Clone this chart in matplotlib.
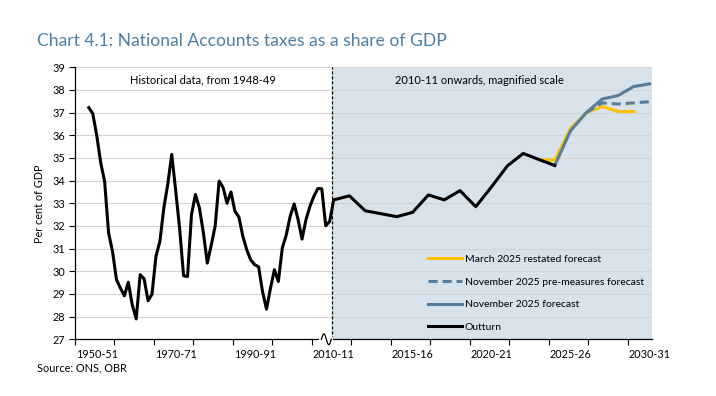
import matplotlib.pyplot as plt
import numpy as np

plt.rcParams['font.family'] = ['Lato', 'DejaVu Sans']

# outturn, historical part (one value per fiscal year, 1948-49 to 2009-10)
hist_years = list(range(1948, 2010))
hist_values = [37.22, 36.96, 36.0, 34.8, 33.97, 31.7, 30.88, 29.63, 29.26, 28.92,
               29.52, 28.52, 27.9, 29.85, 29.67, 28.7, 28.99, 30.66, 31.32, 32.8,
               33.85, 35.16, 33.56, 31.88, 29.8, 29.77, 32.5, 33.39, 32.8, 31.72,
               30.36, 31.15, 32.0, 33.98, 33.7, 33.0, 33.5, 32.65, 32.4, 31.55,
               30.95, 30.5, 30.29, 30.2, 29.1, 28.33, 29.25, 30.07, 29.55, 31.03,
               31.6, 32.43, 32.97, 32.28, 31.42, 32.28, 32.87, 33.31, 33.65, 33.64,
               32.01, 32.2]

# outturn, magnified part
recent_years = list(range(2010, 2025))
recent_values = [33.15, 33.33, 32.67, 32.54, 32.41, 32.6, 33.37, 33.15, 33.56,
                 32.85, 33.73, 34.65, 35.2, 34.93, 34.67]

march_years = list(range(2023, 2030))
march_values = [34.93, 34.9, 36.3, 37.0, 37.27, 37.05, 37.05]

nov_years = list(range(2024, 2031))
nov_values = [34.67, 36.2, 37.0, 37.6, 37.75, 38.15, 38.27]

pre_years = list(range(2026, 2031))
pre_values = [37.0, 37.43, 37.38, 37.43, 37.48]

label_years = [1950, 1970, 1990, 2010, 2015, 2020, 2025, 2030]

split_year = 2010
mag = 4  # magnification from 2010-11


def xpos(years):
    years = np.asarray(years)
    return np.where(years < split_year, years - 1948,
                    (split_year - 1948) + mag * (years - split_year))


def fy(y):
    return f"{y}-{str(y + 1)[-2:]}"


yellow = '#ffc000'
blue = '#587d9b'

fig = plt.figure(figsize=(7.16, 3.96), dpi=100)
ax = fig.add_axes([75 / 716, 1 - 339.3 / 396, 576.5 / 716, 272 / 396])

x_left = -3.5
x_right = float(xpos(2030)) + 0.5
x_split = float(xpos(split_year)) - 0.5

ax.axvspan(x_split, x_right, color='#d7e2ea', zorder=0.1, lw=0)
ax.axvline(x_split, color='black', lw=0.9, ls=(0, (2.5, 1.5)), zorder=3)

ax.plot(xpos(march_years), march_values, color=yellow, lw=2.2,
        label='March 2025 restated forecast', zorder=4)
ax.plot(xpos(pre_years), pre_values, color=blue, lw=2.2, ls=(0, (3, 1.6)),
        label='November 2025 pre-measures forecast', zorder=5)
ax.plot(xpos(nov_years), nov_values, color=blue, lw=2.2,
        label='November 2025 forecast', zorder=5)
ax.plot(xpos(hist_years + recent_years), hist_values + recent_values,
        color='black', lw=2.2, label='Outturn', zorder=6,
        solid_joinstyle='round')

ax.set_xlim(x_left, x_right)
ax.set_ylim(27, 39)
ax.set_yticks(range(27, 40))
ax.yaxis.grid(True, color='#d4d4d4', lw=0.8)
ax.set_axisbelow(True)

ax.set_xticks(np.arange(x_left, x_right, 10))
ax.set_xticklabels([])
ax.set_xticks(xpos(label_years), minor=True)
ax.set_xticklabels([fy(y) for y in label_years], minor=True)
ax.tick_params(axis='x', which='major', direction='out', length=4, width=0.8)
ax.tick_params(axis='x', which='minor', length=0, pad=7, labelsize=7.8)
ax.tick_params(axis='y', direction='out', length=4, width=0.8, labelsize=7.8, pad=3)

for s in ['top', 'right']:
    ax.spines[s].set_visible(False)
ax.spines['left'].set_linewidth(0.9)
ax.spines['bottom'].set_linewidth(0.9)

ax.set_ylabel('Per cent of GDP', fontsize=7.8)
ax.yaxis.set_label_coords(-0.052, 0.5)

# axis break on the x axis
b0 = x_split - 2.6
b1 = x_split - 0.1
ax.plot([b0, b1], [0, 0], color='white', lw=3, transform=ax.get_xaxis_transform(),
        clip_on=False, zorder=7)
t = np.linspace(0, 1, 30)
ax.plot(b0 + (b1 - b0) * t, 0.02 * np.sin(2 * np.pi * t), color='black', lw=0.9,
        transform=ax.get_xaxis_transform(), clip_on=False, zorder=8)

ax.text(float(xpos(1977)), 38.45, 'Historical data, from 1948-49', ha='center',
        va='center', fontsize=8)
ax.text(float(xpos(2019)) + 0.9, 38.4, '2010-11 onwards, magnified scale', ha='center',
        va='center', fontsize=8)

ax.legend(loc='lower left', bbox_to_anchor=(0.6, 0.0), frameon=False,
          fontsize=7.5, handlelength=3.2, handletextpad=0.3, labelspacing=1.28,
          borderpad=0.2)

fig.text(37 / 716, 1 - 41 / 396, 'Chart 4.1: National Accounts taxes as a share of GDP',
         color='#4f7fa0', fontsize=12.6, va='center')
fig.text(37 / 716, 1 - 368 / 396, 'Source: ONS, OBR', fontsize=7.8, va='center')

fig.savefig('out.png', dpi=100)
